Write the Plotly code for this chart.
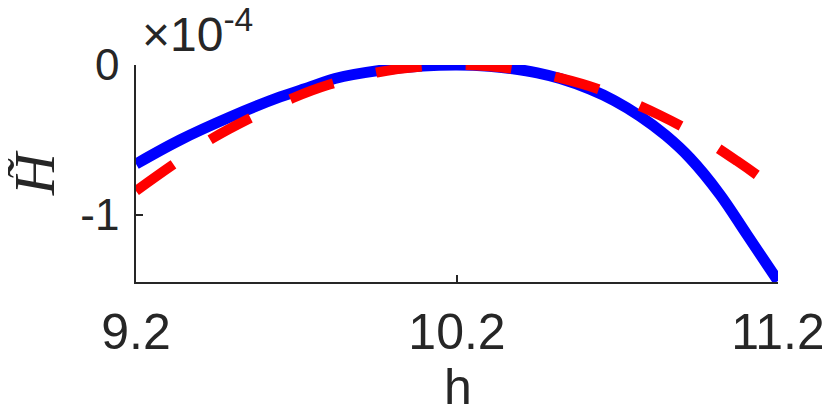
import plotly.graph_objects as go

# values in units of 1e-4
h_blue = [9.2, 9.337, 9.493, 9.649, 9.742, 9.82, 9.96, 10.094, 10.2, 10.30, 10.374, 10.45, 10.521,
          10.614, 10.69, 10.77, 10.85, 10.926, 11.019, 11.103, 11.2]
H_blue = [-0.66, -0.50, -0.347, -0.213, -0.147, -0.09, -0.036, -0.007, 0.0, -0.008, -0.025, -0.052, -0.09,
          -0.161, -0.237, -0.341, -0.469, -0.621, -0.863, -1.13, -1.44]

h_red = [9.2, 9.312, 9.44, 9.555, 9.689, 9.80, 9.95, 10.09, 10.2, 10.30, 10.37, 10.52,
         10.655, 10.832, 10.95, 11.072, 11.15, 11.2]
H_red = [-0.84, -0.67, -0.487, -0.355, -0.22, -0.132, -0.05, -0.01, 0.0, -0.008, -0.024, -0.086,
         -0.172, -0.335, -0.47, -0.64, -0.758, -0.84]

x_ticks = [9.2, 10.2, 11.2]
x_ticklabels = ["9.2", "10.2", "11.2"]
y_ticks = [-1, 0]
y_ticklabels = ["-1", "0"]

axis_color = "#262626"

fig = go.Figure()
fig.add_trace(go.Scatter(x=h_blue, y=H_blue, mode="lines",
                         line=dict(color="#0000FF", width=11, shape="spline", smoothing=1),
                         showlegend=False, hoverinfo="skip"))
fig.add_trace(go.Scatter(x=h_red, y=H_red, mode="lines",
                         line=dict(color="#FF0000", width=10, dash="46px,44px", shape="spline", smoothing=1),
                         showlegend=False, hoverinfo="skip"))

# page body has an 8px default margin, so the figure is offset by 8px
fig.update_layout(
    width=822, height=399,
    margin=dict(l=128, r=52, t=57, b=125),
    paper_bgcolor="white", plot_bgcolor="white",
    font=dict(family="Liberation Sans, Arial, sans-serif", color=axis_color),
    xaxis=dict(range=[9.2, 11.2], tickvals=x_ticks, ticktext=x_ticklabels,
               ticks="inside", ticklen=7, tickwidth=1.5, tickcolor=axis_color,
               showline=True, linecolor=axis_color, linewidth=1.5,
               showgrid=False, zeroline=False, tickfont=dict(size=50),
               ticklabelstandoff=5, automargin=False, ticklabeloverflow="allow"),
    yaxis=dict(range=[-1.447, 0], tickvals=y_ticks, ticktext=y_ticklabels,
               ticks="inside", ticklen=7, tickwidth=1.5, tickcolor=axis_color,
               showline=True, linecolor=axis_color, linewidth=1.5,
               showgrid=False, zeroline=False, tickfont=dict(size=44),
               ticklabelstandoff=6, automargin=False, ticklabeloverflow="allow"),
    annotations=[
        dict(text="×10<sup>-4</sup>", xref="paper", yref="paper", x=0.006, y=1.01,
             xanchor="left", yanchor="bottom", showarrow=False,
             font=dict(size=48, color=axis_color)),
        dict(text="h", xref="paper", yref="paper", x=0.5016, y=-0.486,
             xanchor="center", yanchor="middle", showarrow=False,
             font=dict(size=50, color=axis_color)),
        dict(text="<i>H\u0303</i>", xref="paper", yref="paper", x=-0.158, y=0.5,
             xanchor="center", yanchor="middle", showarrow=False, textangle=-90,
             font=dict(size=58, family="Liberation Serif, Times New Roman, serif", color=axis_color)),
    ],
)

fig.write_html("out.html")
